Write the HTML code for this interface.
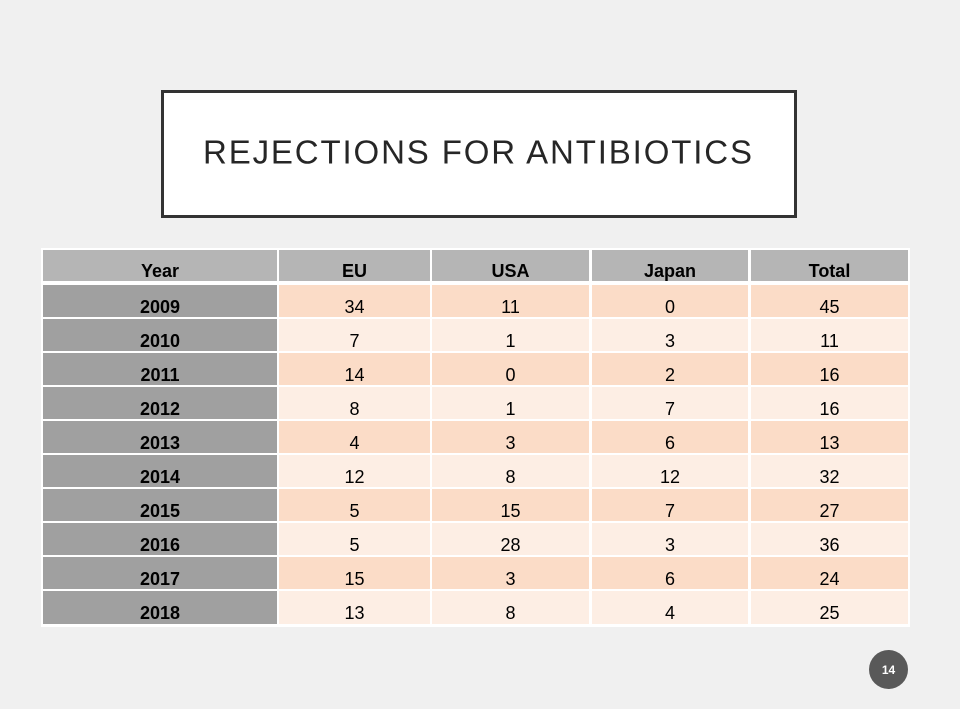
<!DOCTYPE html>
<html>
<head>
<meta charset="utf-8">
<style>
html,body{margin:0;padding:0;background:#f0f0f0;}
svg{display:block;}
</style>
</head>
<body>
<svg width="960" height="709" viewBox="0 0 960 709" xmlns="http://www.w3.org/2000/svg">
<rect x="0" y="0" width="960" height="709" fill="#f0f0f0"/>
<!-- Title box -->
<rect x="162.5" y="91.5" width="633" height="125" fill="#ffffff" stroke="#333333" stroke-width="3"/>
<text x="203" y="163.5" font-family="Liberation Sans, sans-serif" font-size="33" fill="#262626" textLength="549" lengthAdjust="spacing">REJECTIONS FOR ANTIBIOTICS</text>

<!-- Table background -->
<rect x="41" y="248" width="869" height="379" fill="#ffffff"/>

<g font-family="Liberation Sans, Arial, sans-serif" font-size="18" text-anchor="middle" fill="#000">
<!-- header -->
<rect x="43" y="250" width="234" height="31" fill="#b5b5b5"/>
<rect x="279" y="250" width="151" height="31" fill="#b5b5b5"/>
<rect x="432" y="250" width="157" height="31" fill="#b5b5b5"/>
<rect x="592" y="250" width="156" height="31" fill="#b5b5b5"/>
<rect x="751" y="250" width="157" height="31" fill="#b5b5b5"/>
<g font-weight="bold">
<text x="160" y="277">Year</text>
<text x="354.5" y="277">EU</text>
<text x="510.5" y="277">USA</text>
<text x="670" y="277">Japan</text>
<text x="829.5" y="277">Total</text>
</g>

<!-- rows -->
<g id="rows">
<!-- row 0 2009 -->
<rect x="43" y="285" width="234" height="32" fill="#a0a0a0"/>
<rect x="279" y="285" width="151" height="32" fill="#fbdcc7"/><rect x="432" y="285" width="157" height="32" fill="#fbdcc7"/><rect x="592" y="285" width="156" height="32" fill="#fbdcc7"/><rect x="751" y="285" width="157" height="32" fill="#fbdcc7"/>
<text x="160" y="313" font-weight="bold">2009</text><text x="354.5" y="313">34</text><text x="510.5" y="313">11</text><text x="670" y="313">0</text><text x="829.5" y="313">45</text>

<rect x="43" y="319" width="234" height="32" fill="#a0a0a0"/>
<rect x="279" y="319" width="151" height="32" fill="#fdeee4"/><rect x="432" y="319" width="157" height="32" fill="#fdeee4"/><rect x="592" y="319" width="156" height="32" fill="#fdeee4"/><rect x="751" y="319" width="157" height="32" fill="#fdeee4"/>
<text x="160" y="347" font-weight="bold">2010</text><text x="354.5" y="347">7</text><text x="510.5" y="347">1</text><text x="670" y="347">3</text><text x="829.5" y="347">11</text>

<rect x="43" y="353" width="234" height="32" fill="#a0a0a0"/>
<rect x="279" y="353" width="151" height="32" fill="#fbdcc7"/><rect x="432" y="353" width="157" height="32" fill="#fbdcc7"/><rect x="592" y="353" width="156" height="32" fill="#fbdcc7"/><rect x="751" y="353" width="157" height="32" fill="#fbdcc7"/>
<text x="160" y="381" font-weight="bold">2011</text><text x="354.5" y="381">14</text><text x="510.5" y="381">0</text><text x="670" y="381">2</text><text x="829.5" y="381">16</text>

<rect x="43" y="387" width="234" height="32" fill="#a0a0a0"/>
<rect x="279" y="387" width="151" height="32" fill="#fdeee4"/><rect x="432" y="387" width="157" height="32" fill="#fdeee4"/><rect x="592" y="387" width="156" height="32" fill="#fdeee4"/><rect x="751" y="387" width="157" height="32" fill="#fdeee4"/>
<text x="160" y="415" font-weight="bold">2012</text><text x="354.5" y="415">8</text><text x="510.5" y="415">1</text><text x="670" y="415">7</text><text x="829.5" y="415">16</text>

<rect x="43" y="421" width="234" height="32" fill="#a0a0a0"/>
<rect x="279" y="421" width="151" height="32" fill="#fbdcc7"/><rect x="432" y="421" width="157" height="32" fill="#fbdcc7"/><rect x="592" y="421" width="156" height="32" fill="#fbdcc7"/><rect x="751" y="421" width="157" height="32" fill="#fbdcc7"/>
<text x="160" y="449" font-weight="bold">2013</text><text x="354.5" y="449">4</text><text x="510.5" y="449">3</text><text x="670" y="449">6</text><text x="829.5" y="449">13</text>

<rect x="43" y="455" width="234" height="32" fill="#a0a0a0"/>
<rect x="279" y="455" width="151" height="32" fill="#fdeee4"/><rect x="432" y="455" width="157" height="32" fill="#fdeee4"/><rect x="592" y="455" width="156" height="32" fill="#fdeee4"/><rect x="751" y="455" width="157" height="32" fill="#fdeee4"/>
<text x="160" y="483" font-weight="bold">2014</text><text x="354.5" y="483">12</text><text x="510.5" y="483">8</text><text x="670" y="483">12</text><text x="829.5" y="483">32</text>

<rect x="43" y="489" width="234" height="32" fill="#a0a0a0"/>
<rect x="279" y="489" width="151" height="32" fill="#fbdcc7"/><rect x="432" y="489" width="157" height="32" fill="#fbdcc7"/><rect x="592" y="489" width="156" height="32" fill="#fbdcc7"/><rect x="751" y="489" width="157" height="32" fill="#fbdcc7"/>
<text x="160" y="517" font-weight="bold">2015</text><text x="354.5" y="517">5</text><text x="510.5" y="517">15</text><text x="670" y="517">7</text><text x="829.5" y="517">27</text>

<rect x="43" y="523" width="234" height="32" fill="#a0a0a0"/>
<rect x="279" y="523" width="151" height="32" fill="#fdeee4"/><rect x="432" y="523" width="157" height="32" fill="#fdeee4"/><rect x="592" y="523" width="156" height="32" fill="#fdeee4"/><rect x="751" y="523" width="157" height="32" fill="#fdeee4"/>
<text x="160" y="551" font-weight="bold">2016</text><text x="354.5" y="551">5</text><text x="510.5" y="551">28</text><text x="670" y="551">3</text><text x="829.5" y="551">36</text>

<rect x="43" y="557" width="234" height="32" fill="#a0a0a0"/>
<rect x="279" y="557" width="151" height="32" fill="#fbdcc7"/><rect x="432" y="557" width="157" height="32" fill="#fbdcc7"/><rect x="592" y="557" width="156" height="32" fill="#fbdcc7"/><rect x="751" y="557" width="157" height="32" fill="#fbdcc7"/>
<text x="160" y="585" font-weight="bold">2017</text><text x="354.5" y="585">15</text><text x="510.5" y="585">3</text><text x="670" y="585">6</text><text x="829.5" y="585">24</text>

<rect x="43" y="591" width="234" height="33" fill="#a0a0a0"/>
<rect x="279" y="591" width="151" height="33" fill="#fdeee4"/><rect x="432" y="591" width="157" height="33" fill="#fdeee4"/><rect x="592" y="591" width="156" height="33" fill="#fdeee4"/><rect x="751" y="591" width="157" height="33" fill="#fdeee4"/>
<text x="160" y="619" font-weight="bold">2018</text><text x="354.5" y="619">13</text><text x="510.5" y="619">8</text><text x="670" y="619">4</text><text x="829.5" y="619">25</text>
</g>
</g>

<!-- page number -->
<circle cx="888.5" cy="669.5" r="19.5" fill="#595959"/>
<text x="888.5" y="674" font-family="Liberation Sans, sans-serif" font-size="12" font-weight="bold" fill="#ffffff" text-anchor="middle">14</text>
</svg>
</body>
</html>
